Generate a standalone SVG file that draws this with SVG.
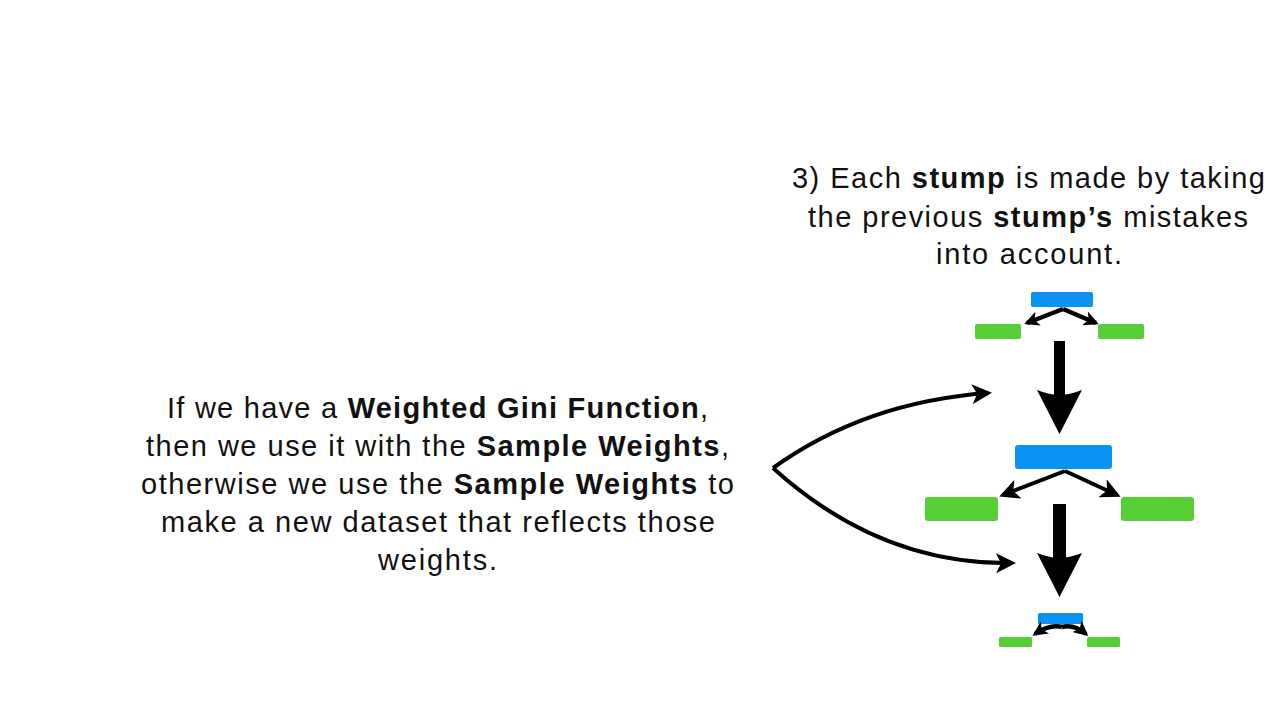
<svg xmlns="http://www.w3.org/2000/svg" width="1280" height="720" viewBox="0 0 1280 720">
<style>
.t{font-family:"Liberation Sans",Arial,sans-serif;font-size:29px;fill:#111;text-anchor:middle}
.b{font-weight:bold}
.blue{fill:#0A93F5}
.green{fill:#55CF33}
.thin{fill:none;stroke:#000;stroke-width:4.5}
.curve{fill:none;stroke:#000;stroke-width:4}
</style>
<defs>
<marker id="ah" viewBox="0 0 10 10" refX="8" refY="5" markerWidth="5" markerHeight="5" orient="auto" markerUnits="strokeWidth">
<path d="M0,0 L10,5 L0,10 L2.5,5 Z" fill="#000"/>
</marker>
<marker id="ahs" viewBox="0 0 10 10" refX="8" refY="5" markerWidth="3.3" markerHeight="3.3" orient="auto" markerUnits="strokeWidth">
<path d="M0,0 L10,5 L0,10 L2.5,5 Z" fill="#000"/>
</marker>
</defs>
<rect width="1280" height="720" fill="#fff"/>

<g id="text-top">
<text class="t" x="1028.5" y="188" textLength="473" lengthAdjust="spacing">3) Each <tspan class="b">stump</tspan> is made by taking</text>
<text class="t" x="1028" y="227" textLength="440" lengthAdjust="spacing">the previous <tspan class="b">stump’s</tspan> mistakes</text>
<text class="t" x="1029" y="264" textLength="186" lengthAdjust="spacing">into account.</text>
</g>

<g id="text-left">
<text class="t" x="437.5" y="418" textLength="541" lengthAdjust="spacing">If we have a <tspan class="b">Weighted Gini Function</tspan>,</text>
<text class="t" x="437.5" y="456" textLength="583" lengthAdjust="spacing">then we use it with the <tspan class="b">Sample Weights</tspan>,</text>
<text class="t" x="437.5" y="494" textLength="593" lengthAdjust="spacing">otherwise we use the <tspan class="b">Sample Weights</tspan> to</text>
<text class="t" x="438" y="532" textLength="554" lengthAdjust="spacing">make a new dataset that reflects those</text>
<text class="t" x="437.5" y="570" textLength="119" lengthAdjust="spacing">weights.</text>
</g>

<g id="stump1">
<rect class="blue" x="1031" y="292" width="62" height="15" rx="2"/>
<rect class="green" x="975" y="324" width="46" height="15" rx="2"/>
<rect class="green" x="1098" y="324" width="46" height="15" rx="2"/>
</g>
<g id="stump2">
<rect class="blue" x="1015" y="445" width="97" height="24" rx="3"/>
<rect class="green" x="925" y="497" width="73" height="24" rx="3"/>
<rect class="green" x="1121" y="497" width="73" height="24" rx="3"/>
</g>
<g id="stump3">
<rect class="blue" x="1038" y="613" width="45" height="11" rx="1.5"/>
<rect class="green" x="999" y="637" width="33" height="10" rx="1.5"/>
<rect class="green" x="1087" y="637" width="33" height="10" rx="1.5"/>
</g>

<g id="connectors">
<path class="thin" d="M1063,309 L1027,323" marker-end="url(#ahs)"/>
<path class="thin" d="M1063,309 L1096,323" marker-end="url(#ahs)"/>
<path class="thin" d="M1065,471 L1003,495" marker-end="url(#ah)" style="stroke-width:4"/>
<path class="thin" d="M1065,471 L1117,495" marker-end="url(#ah)" style="stroke-width:4"/>
<path class="thin" d="M1062,627 Q1050,624 1035,634" marker-end="url(#ahs)"/>
<path class="thin" d="M1062,627 Q1074,624 1086,634" marker-end="url(#ahs)"/>
<rect x="1054" y="341" width="11" height="55" fill="#000"/>
<path d="M1037,390 Q1050,395 1059.5,395 Q1069,395 1082,390 L1059.5,434 Z" fill="#000"/>
<rect x="1053" y="504" width="13" height="55" fill="#000"/>
<path d="M1037,553 Q1050,558 1059.5,558 Q1069,558 1082,553 L1059.5,597 Z" fill="#000"/>
<path class="curve" d="M773,468 Q865,402 988,393" marker-end="url(#ah)"/>
<path class="curve" d="M773,468 Q880,565 1012,563" marker-end="url(#ah)"/>
</g>
</svg>
